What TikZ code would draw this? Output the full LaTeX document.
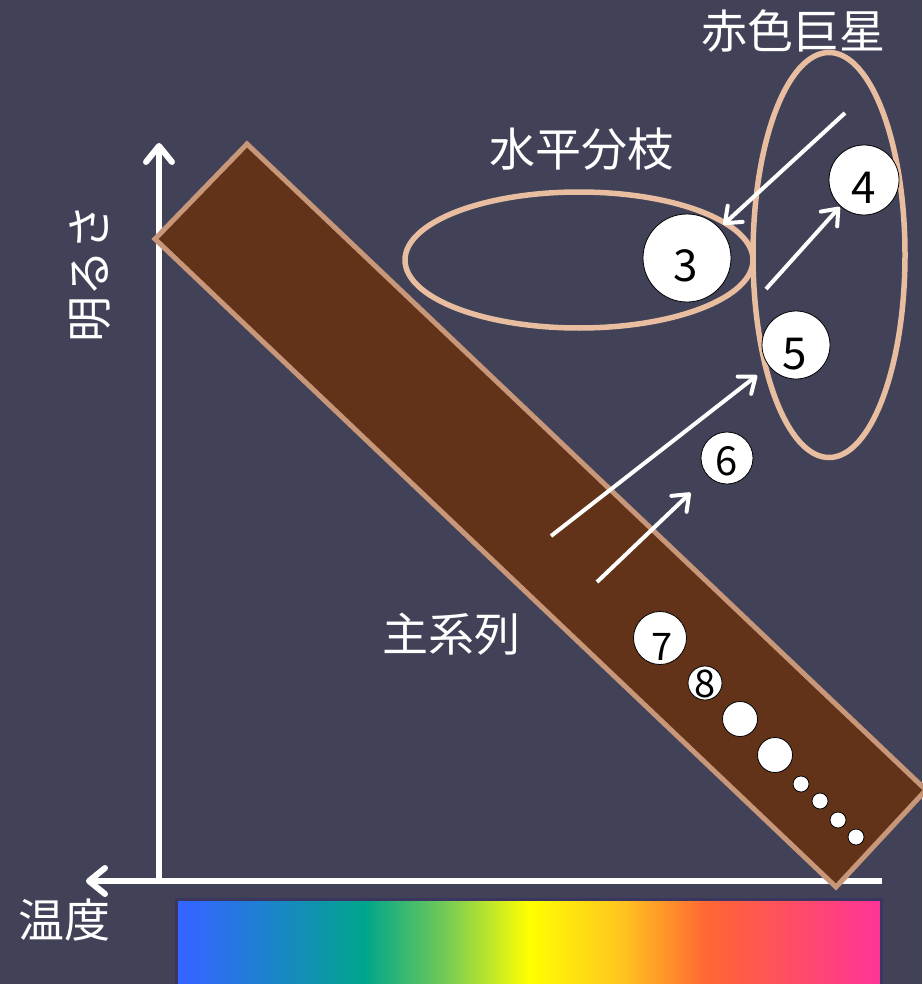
\documentclass[tikz,border=0pt]{standalone}
\usepackage{fontspec}
\setmainfont{Noto Sans CJK JP}
\usetikzlibrary{arrows.meta,shapes.geometric}
\definecolor{slate}{RGB}{65,66,88}
\definecolor{bandbrown}{RGB}{98,51,25}
\definecolor{bandedge}{RGB}{200,150,120}
\definecolor{ringpeach}{RGB}{233,190,160}
\definecolor{specedge}{RGB}{58,54,96}
\pgfdeclarehorizontalshading{spectrum}{100bp}{rgb(0bp)=(0.2,0.4,1); rgb(26bp)=(0.2,0.4,1);
  rgb(38.4bp)=(0,0.65,0.55); rgb(44.3bp)=(0.47,0.8,0.33); rgb(50bp)=(1,1,0);
  rgb(56.4bp)=(1,0.78,0.12); rgb(62.7bp)=(1,0.4,0.2); rgb(75bp)=(1,0.2,0.6); rgb(100bp)=(1,0.2,0.6)}

\begin{document}
\begin{tikzpicture}[x=1pt,y=-1pt]
\tikzset{starball/.style={circle,draw=black,line width=0.8pt,fill=white,inner sep=0pt}}
\tikzset{num/.style={text=black,inner sep=0pt,font=\fontsize{44}{44}\selectfont}}
\tikzset{jp/.style={text=white,inner sep=0pt,font=\fontsize{46}{46}\selectfont}}
\tikzset{ring/.style={ellipse,draw=ringpeach,line width=5.5pt,inner sep=0pt}}
\tikzset{track/.style={draw=white,line width=4pt,-{Straight Barb[length=14pt,width=22pt,round]}}}
\tikzset{axisline/.style={draw=white,line width=6pt,-{Straight Barb[length=16pt,width=26pt,round]}}}
\useasboundingbox (0,0) rectangle (922,984);
\fill[slate] (0,0) rectangle (922,984);
% temperature colours
\shadedraw[shading=spectrum,draw=specedge,line width=3pt] (176,899) rectangle (881,1000);
% axes
\coordinate (O) at (159,881);
\coordinate (ytip) at (159,143);
\coordinate (xtip) at (86,881);
\coordinate (xend) at (882,881);
\draw[axisline] (O) -- (ytip);
\draw[axisline] (xend) -- (xtip);
% main sequence
\filldraw[fill=bandbrown,draw=bandedge,line width=5pt] (155,239) -- (247,144) -- (926,790) -- (836,887) -- cycle;
\node[ring,minimum width=348pt,minimum height=136pt] (hb) at (579,260) {};
\node[ring,minimum width=152pt,minimum height=405pt] (rg) at (829,255) {};
% stars
\node[starball,minimum size=88pt] (s3) at (687,258) {};
\node[starball,minimum size=70pt] (s4) at (864,180) {};
\node[starball,minimum size=68pt] (s5) at (796,345) {};
\node[starball,minimum size=52pt] (s6) at (727,458) {};
\node[starball,minimum size=53pt] (s7) at (660,638) {};
\node[starball,minimum size=34pt] (s8) at (705,683) {};
\node[starball,minimum size=35pt] (s9) at (740,719) {};
\node[starball,minimum size=35pt] (s10) at (775,755) {};
\foreach \x/\y [count=\i] in {801/784,820/801,838/820,856/837}
  \node[starball,minimum size=16pt] (d\i) at (\x,\y) {};
\node[num] (n3) at (686,266) {3};
\node[num] (n4) at (864,188) {4};
\node[num] (n5) at (795,354) {5};
\node[num,font=\fontsize{40}{40}\selectfont] (n6) at (727,461) {6};
\node[num,font=\fontsize{38}{38}\selectfont] (n7) at (662,647) {7};
\node[num,font=\fontsize{38}{38}\selectfont] (n8) at (705,684) {8};
% evolution
\coordinate (t1) at (845,113);
\coordinate (t2) at (766,289);
\coordinate (t3) at (551,536);
\coordinate (t4) at (597,582);
\draw[track,shorten >=5pt] (t1) -- (s3);
\draw[track,shorten >=1pt] (t2) -- (s4);
\draw[track,shorten >=15pt] (t3) -- (s5);
\draw[track,shorten >=24pt] (t4) -- (s6);
% labels
\node[jp] (lrg) at (793,31) {赤色巨星};
\node[jp] (lhb) at (581,149) {水平分枝};
\node[jp] (lms) at (451,634) {主系列};
\node[jp,rotate=90] (llum) at (90,273) {明るさ};
\node[jp] (ltemp) at (64,920) {温度};
\end{tikzpicture}
\end{document}
